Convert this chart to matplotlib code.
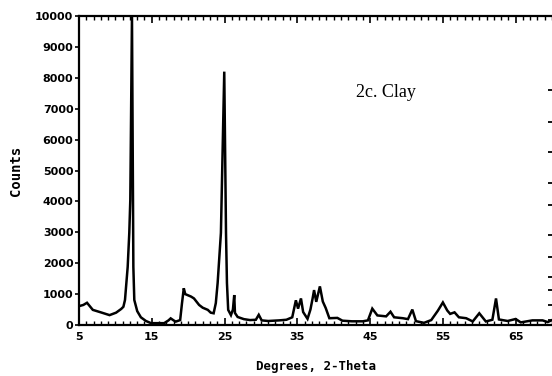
import matplotlib
matplotlib.use("Agg")
import matplotlib.pyplot as plt
from matplotlib.ticker import MultipleLocator

# ---- data ----
two_theta = [
    5.0, 5.6, 6.1, 6.9, 8.0, 9.2, 10.1, 10.8, 11.1,
    11.32, 11.69, 11.91, 12.05, 12.28, 12.42, 12.47, 12.6, 13.0, 13.5, 14.2, 14.9,
    16.0, 16.7, 17.3, 17.6, 18.0, 18.3, 18.9, 19.15, 19.4, 19.6, 19.9, 20.4, 20.8,
    21.5, 22.0, 22.7, 23.1, 23.5, 23.8, 24.05, 24.5, 24.96, 25.2, 25.33, 25.5,
    25.88, 26.15, 26.33, 26.43, 26.8, 27.66, 28.5, 29.3, 29.7, 30.1, 31.0, 32.5,
    33.5, 34.3, 34.8, 35.1, 35.5, 35.8, 36.4, 36.8, 37.1, 37.3, 37.6, 38.1, 38.5,
    38.9, 39.4, 40.5, 41.2, 42.5, 44.0, 44.7, 45.3, 46.0, 47.2, 47.8, 48.3, 49.5,
    50.2, 50.8, 51.3, 52.4, 53.4, 54.3, 55.0, 55.6, 56.0, 56.6, 57.2, 58.2, 59.1,
    60.0, 60.9, 61.8, 62.3, 62.7, 63.9, 65.0, 65.7, 67.3, 68.7, 69.4, 70.0,
]
counts = [
    610, 650, 720, 490, 410, 320, 400, 520, 590,
    810, 1880, 2980, 4050, 10000, 4050, 1880, 810, 450, 250, 130, 60,
    60, 60, 150, 215, 150, 110, 160, 700, 1190, 1000, 970, 920, 860,
    650, 560, 490, 400, 380, 710, 1360, 2980, 8200, 2980, 1360, 490,
    320, 500, 970, 390, 260, 190, 160, 170, 330, 150, 130, 150,
    170, 250, 800, 530, 860, 420, 200, 500, 860, 1130, 750, 1250, 760,
    550, 220, 230, 140, 120, 120, 150, 530, 310, 280, 430, 250, 220,
    190, 500, 125, 70, 160, 460, 730, 470, 360, 410, 250, 220, 115,
    380, 115, 170, 860, 180, 130, 195, 85, 150, 150, 95, 160,
]
x_ticks = [5, 15, 25, 35, 45, 55, 65]
y_ticks = [0, 1000, 2000, 3000, 4000, 5000, 6000, 7000, 8000, 9000, 10000]
right_ticks = [7600, 6570, 5600, 4600, 3900, 2900, 2200, 1550, 1130, 650, 160]

fig = plt.figure(figsize=(5.52, 3.76), dpi=100)
ax = fig.add_axes([0.1431, 0.1356, 0.857, 0.8218])

ax.plot(two_theta, counts, color="black", lw=1.8, solid_joinstyle="miter")

ax.set_xlim(5, 70)
ax.set_ylim(0, 10000)

for s in ["left", "bottom", "top"]:
    ax.spines[s].set_linewidth(1.6)
ax.spines["right"].set_visible(False)

ax.set_xticks(x_ticks)
ax.set_xticklabels([str(v) for v in x_ticks])
ax.xaxis.set_minor_locator(MultipleLocator(1))
ax.set_yticks(y_ticks)
ax.set_yticklabels([str(v) for v in y_ticks])

ax.tick_params(axis="x", which="major", direction="in", length=5, width=1.2,
               top=True, bottom=True, pad=5)
ax.tick_params(axis="x", which="minor", direction="in", length=3, width=1.0,
               top=True, bottom=True)
ax.tick_params(axis="y", which="major", direction="out", length=3, width=1.2,
               pad=1)

for lbl in ax.get_xticklabels() + ax.get_yticklabels():
    lbl.set_fontweight("bold")
    lbl.set_fontsize(8)

# right-hand tick marks
ax2 = ax.twinx()
ax2.set_ylim(0, 10000)
ax2.set_yticks(right_ticks)
ax2.set_yticklabels([])
ax2.tick_params(axis="y", direction="in", length=3, width=1.3)
for s in ax2.spines.values():
    s.set_visible(False)

ax.set_xlabel("Degrees, 2-Theta", family="DejaVu Sans Mono", fontweight="bold",
              fontsize=9, labelpad=13)
ax.set_ylabel("Counts", family="DejaVu Sans Mono", fontweight="bold",
              fontsize=10, labelpad=9)

ax.text(47.2, 7540, "2c. Clay", family="Liberation Serif", fontsize=13,
        ha="center", va="center")

fig.savefig("out.png", dpi=100)
